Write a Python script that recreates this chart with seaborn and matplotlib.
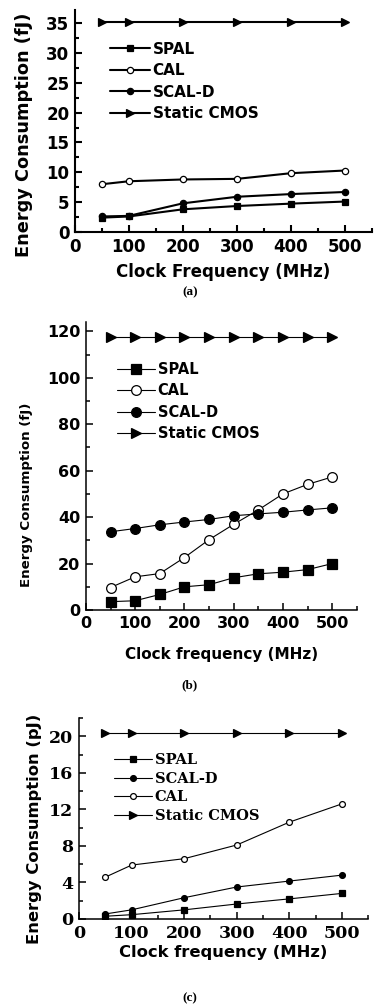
import numpy as np
import pandas as pd
import seaborn as sns
import matplotlib.pyplot as plt
from matplotlib.ticker import MultipleLocator

# panel (a)
freq_a = [50, 100, 200, 300, 400, 500]
spal_a = [2.4, 2.6, 3.8, 4.35, 4.75, 5.1]
cal_a = [8.0, 8.5, 8.8, 8.9, 9.85, 10.3]
scald_a = [2.6, 2.7, 4.8, 5.9, 6.35, 6.7]
cmos_a = [35.2, 35.2, 35.2, 35.2, 35.2, 35.2]

# panel (b)
freq_b = [50, 100, 150, 200, 250, 300, 350, 400, 450, 500]
spal_b = [3.6, 4.0, 6.7, 10.0, 10.9, 13.9, 15.6, 16.3, 17.4, 20.0]
cal_b = [9.7, 14.3, 15.7, 22.6, 30.3, 36.9, 43.1, 50.0, 54.1, 57.3]
scald_b = [33.7, 35.1, 36.7, 37.9, 39.0, 40.6, 41.4, 42.1, 43.1, 44.0]
cmos_b = [117.5] * 10

# panel (c)
freq_c = [50, 100, 200, 300, 400, 500]
spal_c = [0.3, 0.47, 1.0, 1.64, 2.2, 2.8]
scald_c = [0.55, 1.0, 2.33, 3.5, 4.15, 4.8]
cal_c = [4.58, 5.9, 6.6, 8.1, 10.6, 12.6]
cmos_c = [20.4] * 6

sns.set_style("ticks")
plt.rcParams['font.family'] = ['DejaVu Sans']
plt.rcParams['font.weight'] = 'bold'
plt.rcParams['text.color'] = 'black'
plt.rcParams['axes.labelcolor'] = 'black'
plt.rcParams['xtick.color'] = 'black'
plt.rcParams['ytick.color'] = 'black'
plt.rcParams['axes.edgecolor'] = 'black'

fig = plt.figure(figsize=(3.8, 10.06), dpi=100)

styles = {
    "SPAL": dict(marker="s", markerfacecolor="black"),
    "CAL": dict(marker="o", markerfacecolor="white"),
    "SCAL-D": dict(marker="o", markerfacecolor="black"),
    "Static CMOS": dict(marker=">", markerfacecolor="black"),
}


def panel(ax, freq, series, ms, lw, spine_w, ylim, ymaj, ymin, tick_font, tick_size,
          ylabel, ylab_size, xlabel, xlab_size, ylab_xy, xlab_y, leg_xy, leg_size,
          leg_space, tri_ms):
    for name, vals in series:
        st = styles[name]
        size = tri_ms if name == "Static CMOS" else ms
        sns.lineplot(x=freq, y=vals, ax=ax, color="black", linewidth=lw,
                     marker=st["marker"], markerfacecolor=st["markerfacecolor"],
                     markeredgecolor="black", markeredgewidth=0.9, markersize=size,
                     label=name)
    ax.set_xlim(0, 550)
    ax.set_ylim(*ylim)
    ax.xaxis.set_major_locator(MultipleLocator(100))
    ax.xaxis.set_minor_locator(MultipleLocator(50))
    ax.yaxis.set_major_locator(MultipleLocator(ymaj))
    ax.yaxis.set_minor_locator(MultipleLocator(ymin))
    ax.tick_params(which="major", direction="in", length=5, width=spine_w, pad=4)
    ax.tick_params(which="minor", direction="in", length=3, width=spine_w)
    sns.despine(ax=ax)
    for s in ["left", "bottom"]:
        ax.spines[s].set_linewidth(spine_w)
    for lab in ax.get_xticklabels() + ax.get_yticklabels():
        lab.set_family(tick_font)
        lab.set_fontsize(tick_size)
        lab.set_fontweight("bold")
    ax.set_ylabel(ylabel, fontsize=ylab_size, fontweight="bold")
    ax.set_xlabel(xlabel, fontsize=xlab_size, fontweight="bold", va="top")
    ax.yaxis.set_label_coords(*ylab_xy)
    ax.xaxis.set_label_coords(0.5, xlab_y)
    ax.legend(loc="upper left", bbox_to_anchor=leg_xy, frameon=False,
              borderpad=0, borderaxespad=0, handlelength=2.6, handletextpad=0.2,
              labelspacing=leg_space,
              prop=dict(family=tick_font, size=leg_size, weight="bold"))


ax_a = fig.add_axes([0.197, 0.7694, 0.782, 0.2207])
panel(ax_a, freq_a,
      [("SPAL", spal_a), ("CAL", cal_a), ("SCAL-D", scald_a), ("Static CMOS", cmos_a)],
      ms=4.5, lw=1.5, spine_w=1.5, ylim=(0, 37.2), ymaj=5, ymin=2.5,
      tick_font="DejaVu Sans", tick_size=12, ylabel="Energy Consumption (fJ)",
      ylab_size=12.8, xlabel="Clock Frequency (MHz)", xlab_size=12,
      ylab_xy=(-0.141, 0.437), xlab_y=-0.14, leg_xy=(0.118, 0.857), leg_size=11,
      leg_space=0.42, tri_ms=6)

ax_b = fig.add_axes([0.226, 0.3936, 0.713, 0.2863])
panel(ax_b, freq_b,
      [("SPAL", spal_b), ("CAL", cal_b), ("SCAL-D", scald_b), ("Static CMOS", cmos_b)],
      ms=7, lw=0.8, spine_w=1.1, ylim=(0, 124), ymaj=20, ymin=10,
      tick_font="DejaVu Sans", tick_size=11.5, ylabel="Energy Consumption (fJ)",
      ylab_size=9.6, xlabel="Clock frequency (MHz)", xlab_size=11,
      ylab_xy=(-0.196, 0.40), xlab_y=-0.128, leg_xy=(0.114, 0.862), leg_size=10.5,
      leg_space=0.45, tri_ms=7.2)

ax_c = fig.add_axes([0.208, 0.0865, 0.761, 0.1998])
panel(ax_c, freq_c,
      [("SPAL", spal_c), ("SCAL-D", scald_c), ("CAL", cal_c), ("Static CMOS", cmos_c)],
      ms=4.2, lw=0.8, spine_w=1.1, ylim=(0, 22), ymaj=4, ymin=2,
      tick_font="DejaVu Serif", tick_size=12.5, ylabel="Energy Consumption (pJ)",
      ylab_size=11.8, xlabel="Clock frequency (MHz)", xlab_size=11.8,
      ylab_xy=(-0.128, 0.45), xlab_y=-0.129, leg_xy=(0.121, 0.825), leg_size=10.5,
      leg_space=0.32, tri_ms=6)

for txt, y in [("(a)", 0.709), ("(b)", 0.319), ("(c)", 0.008)]:
    fig.text(0.5, y, txt, ha="center", va="center", fontsize=9.5,
             fontweight="bold", family="Liberation Serif")

fig.savefig("out.png", dpi=100)
